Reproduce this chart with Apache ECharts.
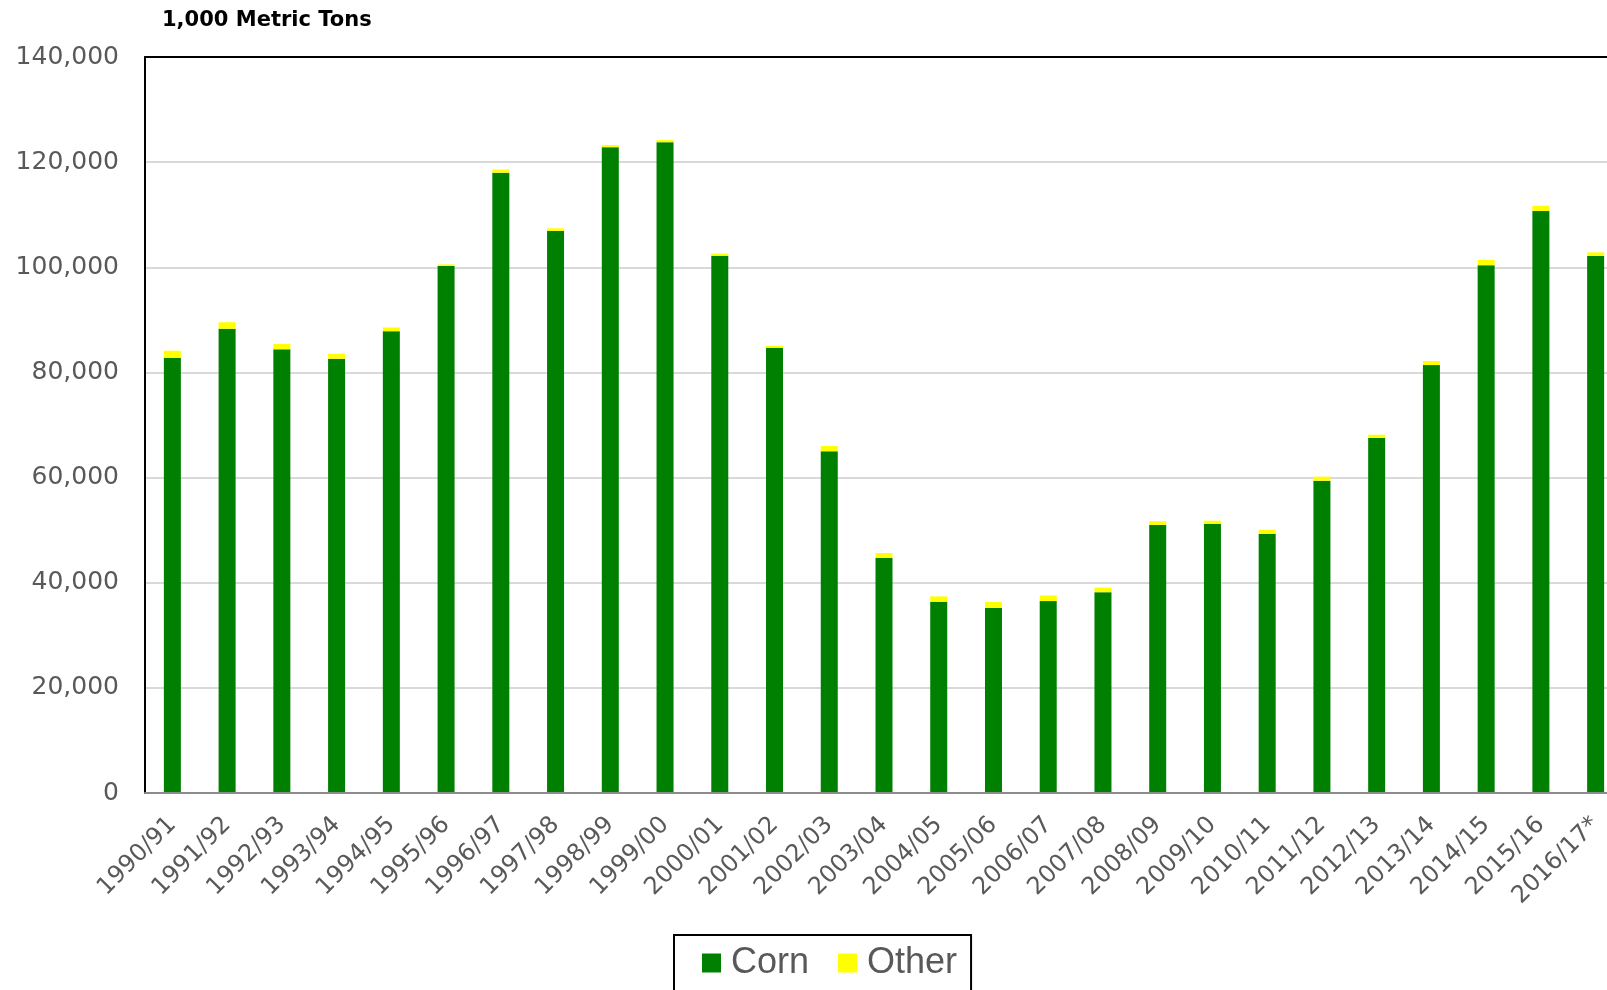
<!DOCTYPE html>
<html>
<head>
<meta charset="utf-8">
<script src="https://cdn.jsdelivr.net/npm/echarts@6/dist/echarts.min.js"></script>
<style>
  html, body { margin: 0; padding: 0; background: #fff; }
  #chart { width: 1607px; height: 990px; }
</style>
</head>
<body>
<div id="chart"></div>
<script>
// marketing years
var years = ['1990/91', '1991/92', '1992/93', '1993/94', '1994/95', '1995/96', '1996/97',
  '1997/98', '1998/99', '1999/00', '2000/01', '2001/02', '2002/03', '2003/04', '2004/05',
  '2005/06', '2006/07', '2007/08', '2008/09', '2009/10', '2010/11', '2011/12', '2012/13',
  '2013/14', '2014/15', '2015/16', '2016/17*']

// 1,000 metric tons
var corn = [82800, 88300, 84400, 82600, 87850, 100250, 118000, 106900, 122850, 123800,
  102200, 84700, 65000, 44700, 36400, 35200, 36500, 38200, 51000, 51200, 49300, 59400,
  67550, 81400, 100400, 110700, 102150]
var other = [1330, 1250, 1000, 950, 700, 300, 600, 500, 400, 400, 400, 350, 1000, 950,
  1000, 1140, 1070, 875, 700, 600, 780, 780, 600, 780, 1000, 1000, 700]

var yTicks = [0, 20000, 40000, 60000, 80000, 100000, 120000, 140000]

var font = 'DejaVu Sans, sans-serif'
var legendFont = 'Liberation Sans, Arial, sans-serif'
var myChart = echarts.init(document.getElementById('chart'))

myChart.setOption({
  animation: false,
  title: {
    text: '1,000 Metric Tons',
    left: 157,
    top: 5,
    textStyle: {
      fontFamily: font,
      fontSize: 21,
      fontWeight: 'bold',
      color: '#000'
    }
  },
  legend: {
    data: ['Corn', 'Other'],
    left: 674,
    top: 935,
    padding: [10, 14, 14, 28],
    itemWidth: 19,
    itemHeight: 19,
    itemGap: 29,
    borderColor: '#000',
    borderWidth: 2,
    icon: 'rect',
    textStyle: {
      fontFamily: legendFont,
      fontSize: 36,
      color: '#595959',
      padding: [0, 0, 0, 5]
    }
  },
  grid: {
    left: 145,
    top: 57,
    width: 1478,
    height: 736,
    outerBoundsMode: 'none',
    containLabel: false
  },
  // X轴
  xAxis: [
    {
      type: 'category',
      data: years,
      z: 5,
      axisTick: { show: false },
      axisLine: {
        lineStyle: { color: '#8c8c8c', width: 2 }
      },
      axisLabel: {
        interval: 0,
        rotate: 45,
        margin: 28,
        fontFamily: font,
        fontSize: 24,
        color: '#595959'
      }
    },
    {
      // top frame line
      type: 'category',
      position: 'top',
      data: years,
      z: 5,
      axisTick: { show: false },
      axisLabel: { show: false },
      axisLine: {
        lineStyle: { color: '#000', width: 2 }
      }
    }
  ],
  // Y轴
  yAxis: {
    type: 'value',
    min: yTicks[0],
    max: yTicks[yTicks.length - 1],
    interval: 20000,
    axisLine: {
      show: true,
      lineStyle: { color: '#000', width: 2 }
    },
    axisTick: { show: false },
    splitLine: {
      lineStyle: { color: '#d9d9d9', width: 2 }
    },
    axisLabel: {
      margin: 26,
      fontFamily: font,
      fontSize: 25,
      color: '#595959',
      formatter: function (v) {
        return v.toLocaleString('en-US')
      }
    }
  },
  series: [
    {
      name: 'Corn',
      type: 'bar',
      stack: 'total',
      barWidth: 17,
      itemStyle: { color: '#008000' },
      data: corn
    },
    {
      name: 'Other',
      type: 'bar',
      stack: 'total',
      barWidth: 17,
      itemStyle: { color: '#ffff00' },
      data: other
    }
  ]
})
</script>
</body>
</html>
